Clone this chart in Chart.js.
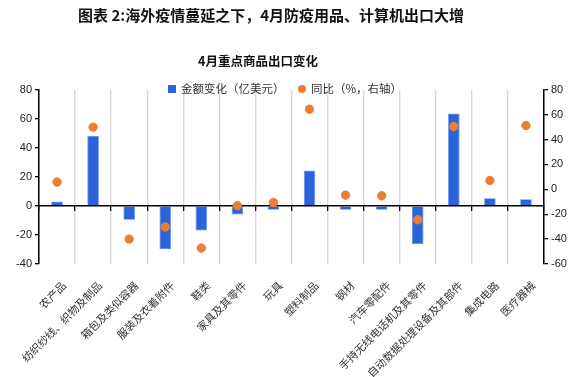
<!DOCTYPE html>
<html><head><meta charset="utf-8">
<script src="https://cdn.jsdelivr.net/npm/chart.js@4/dist/chart.umd.min.js"></script>
<style>
html,body{margin:0;padding:0;background:#fff;}
#wrap{position:relative;width:580px;height:377px;overflow:hidden;}
#c{position:absolute;left:0;top:0;}
.t{position:absolute;font-family:"Noto Sans CJK SC";font-weight:bold;color:#111;white-space:nowrap;}
#title{left:78px;top:5px;font-size:15px;line-height:20px;}
#sub{left:198px;top:52px;font-size:12.5px;line-height:18px;}
.lg{position:absolute;font-family:"Noto Sans CJK SC";font-size:11.5px;line-height:14px;color:#333;white-space:nowrap;top:81px;}
.sq{position:absolute;left:168px;top:84.5px;width:8px;height:8px;background:#2B63DB;}
.dot{position:absolute;left:297.5px;top:84.5px;width:8px;height:8px;border-radius:50%;background:#ED7D31;}
</style></head>
<body><div id="wrap">
<canvas id="c" width="580" height="377"></canvas>
<div class="t" id="title">图表 2:海外疫情蔓延之下，4月防疫用品、计算机出口大增</div>
<div class="t" id="sub">4月重点商品出口变化</div>
<div class="sq"></div><div class="lg" style="left:181px">金额变化（亿美元）</div>
<div class="dot"></div><div class="lg" style="left:311px">同比（%，右轴）</div>
</div>
<script>
const categories = ["农产品","纺织纱线、织物及制品","箱包及类似容器","服装及衣着附件","鞋类","家具及其零件","玩具","塑料制品","钢材","汽车零配件","手持无线电话机及其零件","自动数据处理设备及其部件","集成电路","医疗器械"];
const amountChange = [3, 48.3, -9.6, -29.6, -17, -6, -2.6, 24.4, -2.6, -2.6, -26.4, 63.6, 5.3, 4.6];
const yoyPct = [5.8, 49.9, -40, -30.3, -47.2, -13.2, -10.6, 64.3, -4.7, -5.2, -24.5, 50.4, 7.1, 51.2];
const leftTicks = [80, 60, 40, 20, 0, -20, -40];
const rightTicks = [80, 60, 40, 20, 0, -20, -40, -60];

const tickFont = {family: "Liberation Sans", size: 11};
new Chart(document.getElementById('c'), {
  data: {
    labels: categories,
    datasets: [
      {type: 'scatter', label: '同比（%，右轴）', data: yoyPct.map((v, i) => ({x: categories[i], y: v})),
       yAxisID: 'y1', xAxisID: 'x', backgroundColor: '#ED7D31', borderColor: '#ED7D31', pointRadius: 4.2, pointHoverRadius: 4.2, order: 0},
      {type: 'bar', label: '金额变化（亿美元）', data: amountChange, yAxisID: 'y', xAxisID: 'x',
       backgroundColor: '#2B63DB', borderColor: '#5A8AEA', borderWidth: 0.8, barPercentage: 0.32, categoryPercentage: 1, order: 1}
    ]
  },
  options: {
    responsive: false, animation: false,
    layout: {padding: {top: 89.7, left: 0, right: 0, bottom: 0}},
    plugins: {legend: {display: false}, tooltip: {enabled: false}},
    scales: {
      x: {type: 'category', position: 'bottom', offset: true,
          grid: {display: true, offset: true, color: '#d9d9d9', lineWidth: 1.4, drawTicks: false},
          border: {display: false},
          ticks: {font: {family: "Noto Sans CJK SC", size: 10.8}, color: '#333', minRotation: 45, maxRotation: 45, padding: 15, labelOffset: 7, autoSkip: false},
          afterFit: s => { s.height = 113; }},
      x2: {type: 'category', labels: categories, position: {y: 0}, offset: true,
          grid: {display: true, offset: true, drawOnChartArea: false, drawTicks: true, tickLength: 4.5, color: '#000', lineWidth: 1.3},
          border: {display: true, color: '#000', width: 1.5},
          ticks: {display: false}},
      y: {position: 'left', min: -40, max: 80,
          afterBuildTicks: s => { s.ticks = leftTicks.map(v => ({value: v})); },
          grid: {drawOnChartArea: false, drawTicks: true, tickLength: 4, color: '#000', lineWidth: 1.3},
          border: {display: true, color: '#000', width: 1.5},
          ticks: {font: tickFont, color: '#222', padding: 3},
          afterFit: s => { s.width = 39; }},
      y1: {position: 'right', min: -60, max: 80,
          afterBuildTicks: s => { s.ticks = rightTicks.map(v => ({value: v})); },
          grid: {drawOnChartArea: false, drawTicks: true, tickLength: 4, color: '#000', lineWidth: 1.3},
          border: {display: true, color: '#000', width: 1.5},
          ticks: {font: tickFont, color: '#222', padding: 3},
          afterFit: s => { s.width = 36; }}
    }
  }
});
</script>
</body></html>
